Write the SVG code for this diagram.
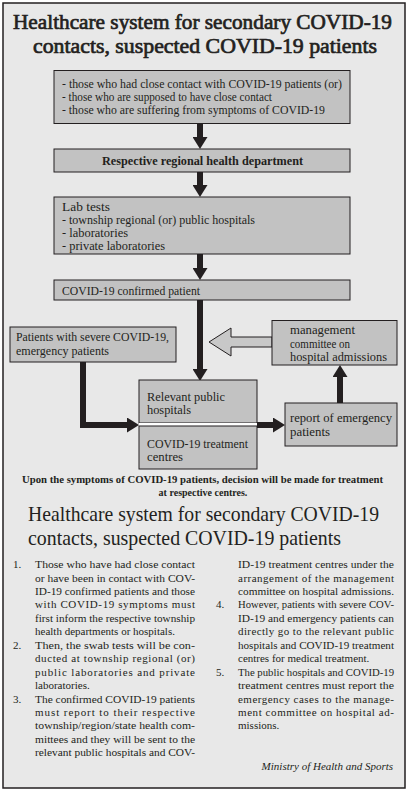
<svg xmlns="http://www.w3.org/2000/svg" width="408" height="792" viewBox="0 0 408 792">
<style>
.t{font-family:"Liberation Serif","Times New Roman",serif;fill:#231f20}
.bx{fill:#c2c2c2;stroke:#231f20;stroke-width:1}
.s{font-size:12px}
.b{font-size:12.5px}
.body{font-size:11px}
.sh{fill:none;stroke:#231f20;stroke-width:6}
</style>
<defs>
<marker id="ah" markerUnits="userSpaceOnUse" markerWidth="12" markerHeight="15" refX="0" refY="7.5" orient="auto" viewBox="0 0 12 15">
<path d="M0,0 L12,7.5 L0,15 z" fill="#231f20"/>
</marker>
</defs>
<rect x="0" y="0" width="408" height="792" fill="#ffffff"/>
<rect x="3" y="3" width="402" height="785" fill="#e8e8e8" stroke="#231f20" stroke-width="1.5"/>

<g id="title">
<text class="t" x="13" y="29" font-size="21.8" textLength="379" lengthAdjust="spacingAndGlyphs" stroke="#231f20" stroke-width="0.7">Healthcare system for secondary COVID-19</text>
<text class="t" x="33" y="53" font-size="21.8" textLength="344" lengthAdjust="spacingAndGlyphs" stroke="#231f20" stroke-width="0.7">contacts, suspected COVID-19 patients</text>
</g>

<g id="connectors">
<path class="sh" d="M200,124 V137" marker-end="url(#ah)"/>
<path class="sh" d="M200,172 V185" marker-end="url(#ah)"/>
<path class="sh" d="M200,254 V268" marker-end="url(#ah)"/>
<path class="sh" d="M200,300 V369" marker-end="url(#ah)"/>
<path class="sh" d="M83,362 V425 H127" marker-end="url(#ah)"/>
<path class="sh" d="M257,425 H273" marker-end="url(#ah)"/>
<path class="sh" d="M340,403 V377" marker-end="url(#ah)"/>
<polygon points="209,342 231,328 231,337 272,337 272,347 231,347 231,356" fill="#c8c8c8" stroke="#231f20" stroke-width="1"/>
</g>

<g id="n1">
<rect class="bx" x="54" y="70.5" width="296" height="53"/>
<text class="t s" x="62" y="88" textLength="280" lengthAdjust="spacingAndGlyphs">-  those who had close contact with COVID-19 patients (or)</text>
<text class="t s" x="62" y="101" textLength="210" lengthAdjust="spacingAndGlyphs">-  those who are supposed to have close contact</text>
<text class="t s" x="62" y="114" textLength="263" lengthAdjust="spacingAndGlyphs">-  those who are suffering from symptoms of COVID-19</text>
</g>

<g id="n2">
<rect class="bx" x="54" y="149" width="296" height="23"/>
<text class="t" x="102" y="165" font-size="12" font-weight="bold" textLength="201" lengthAdjust="spacingAndGlyphs">Respective regional health department</text>
</g>

<g id="n3">
<rect class="bx" x="54" y="197" width="296" height="57"/>
<text class="t b" x="62" y="211" textLength="48" lengthAdjust="spacingAndGlyphs">Lab tests</text>
<text class="t b" x="62" y="224" textLength="193" lengthAdjust="spacingAndGlyphs">-  township regional (or) public hospitals</text>
<text class="t b" x="62" y="237" textLength="66" lengthAdjust="spacingAndGlyphs">-  laboratories</text>
<text class="t b" x="62" y="250" textLength="103" lengthAdjust="spacingAndGlyphs">-  private laboratories</text>
</g>

<g id="n4">
<rect class="bx" x="54" y="280" width="296" height="20"/>
<text class="t b" x="62" y="294.5" textLength="138" lengthAdjust="spacingAndGlyphs">COVID-19 confirmed patient</text>
</g>

<g id="n5">
<rect class="bx" x="10" y="327" width="166" height="35"/>
<text class="t b" x="16" y="341" textLength="153" lengthAdjust="spacingAndGlyphs">Patients with severe COVID-19,</text>
<text class="t b" x="16" y="355" textLength="93" lengthAdjust="spacingAndGlyphs">emergency patients</text>
</g>

<g id="n6">
<rect class="bx" x="272" y="320.5" width="125" height="44.5"/>
<text class="t b" x="290" y="334" textLength="65" lengthAdjust="spacingAndGlyphs">management</text>
<text class="t b" x="290" y="347.5" textLength="60" lengthAdjust="spacingAndGlyphs">committee on</text>
<text class="t b" x="290" y="361" textLength="97" lengthAdjust="spacingAndGlyphs">hospital admissions</text>
</g>

<g id="n7">
<rect class="bx" x="139" y="380" width="118" height="43"/>
<text class="t b" x="147" y="401" textLength="78" lengthAdjust="spacingAndGlyphs">Relevant public</text>
<text class="t b" x="147" y="414" textLength="44" lengthAdjust="spacingAndGlyphs">hospitals</text>
</g>
<rect x="139" y="423" width="118" height="3" fill="#ffffff"/>
<g id="n8">
<rect class="bx" x="139" y="426" width="118" height="43"/>
<text class="t b" x="147" y="448" textLength="101" lengthAdjust="spacingAndGlyphs">COVID-19 treatment</text>
<text class="t b" x="147" y="461" textLength="36" lengthAdjust="spacingAndGlyphs">centres</text>
</g>

<g id="n9">
<rect class="bx" x="285" y="403" width="112" height="43"/>
<text class="t b" x="290" y="422" textLength="102" lengthAdjust="spacingAndGlyphs">report of emergency</text>
<text class="t b" x="290" y="436" textLength="40" lengthAdjust="spacingAndGlyphs">patients</text>
</g>

<g id="caption">
<text class="t" x="22" y="483" font-size="10" font-weight="bold" textLength="361" lengthAdjust="spacingAndGlyphs">Upon the symptoms of COVID-19 patients, decision will be made for treatment</text>
<text class="t" x="203" y="496" font-size="10" font-weight="bold" text-anchor="middle">at respective centres.</text>
</g>

<g id="title2">
<text class="t" x="28" y="521" font-size="21" textLength="351" lengthAdjust="spacingAndGlyphs">Healthcare system for secondary COVID-19</text>
<text class="t" x="28" y="545" font-size="21" textLength="313" lengthAdjust="spacingAndGlyphs">contacts, suspected COVID-19 patients</text>
</g>

<g id="bodyleft" class="t body">
<text x="13" y="568">1.</text>
<text x="35" y="568" textLength="160" lengthAdjust="spacingAndGlyphs">Those who have had close contact</text>
<text x="35" y="581.5" textLength="160" lengthAdjust="spacingAndGlyphs">or have been in contact with COV-</text>
<text x="35" y="595" textLength="160" lengthAdjust="spacingAndGlyphs">ID-19 confirmed patients and those</text>
<text x="35" y="608.4" textLength="160" lengthAdjust="spacing">with COVID-19 symptoms must</text>
<text x="35" y="621.8" textLength="160" lengthAdjust="spacingAndGlyphs">first inform the respective township</text>
<text x="35" y="635.3">health departments or hospitals.</text>
<text x="13" y="648.7">2.</text>
<text x="35" y="648.7" textLength="160" lengthAdjust="spacingAndGlyphs">Then, the swab tests will be con-</text>
<text x="35" y="662.1" textLength="160" lengthAdjust="spacing">ducted at township regional (or)</text>
<text x="35" y="675.6" textLength="160" lengthAdjust="spacing">public laboratories and private</text>
<text x="35" y="689">laboratories.</text>
<text x="13" y="702.5">3.</text>
<text x="35" y="702.5" textLength="160" lengthAdjust="spacingAndGlyphs">The confirmed COVID-19 patients</text>
<text x="35" y="715.9" textLength="160" lengthAdjust="spacing">must report to their respective</text>
<text x="35" y="729.4" textLength="160" lengthAdjust="spacingAndGlyphs">township/region/state health com-</text>
<text x="35" y="742.8" textLength="160" lengthAdjust="spacingAndGlyphs">mittees and they will be sent to the</text>
<text x="35" y="756.3" textLength="160" lengthAdjust="spacingAndGlyphs">relevant public hospitals and COV-</text>
</g>

<g id="bodyright" class="t body">
<text x="238" y="568" textLength="156" lengthAdjust="spacingAndGlyphs">ID-19 treatment centres under the</text>
<text x="238" y="581.5" textLength="156" lengthAdjust="spacing">arrangement of the management</text>
<text x="238" y="595" textLength="156" lengthAdjust="spacingAndGlyphs">committee on hospital admissions.</text>
<text x="216" y="608.4">4.</text>
<text x="238" y="608.4" textLength="156" lengthAdjust="spacingAndGlyphs">However, patients with severe COV-</text>
<text x="238" y="621.8" textLength="156" lengthAdjust="spacingAndGlyphs">ID-19 and emergency patients can</text>
<text x="238" y="635.3" textLength="156" lengthAdjust="spacing">directly go to the relevant public</text>
<text x="238" y="648.7" textLength="156" lengthAdjust="spacingAndGlyphs">hospitals and COVID-19 treatment</text>
<text x="238" y="662.1">centres for medical treatment.</text>
<text x="216" y="675.6">5.</text>
<text x="238" y="675.6" textLength="156" lengthAdjust="spacingAndGlyphs">The public hospitals and COVID-19</text>
<text x="238" y="689" textLength="156" lengthAdjust="spacingAndGlyphs">treatment centres must report the</text>
<text x="238" y="702.5" textLength="156" lengthAdjust="spacing">emergency cases to the manage-</text>
<text x="238" y="715.9" textLength="156" lengthAdjust="spacing">ment committee on hospital ad-</text>
<text x="238" y="729.4">missions.</text>
<text x="393" y="770" text-anchor="end" font-style="italic">Ministry of Health and Sports</text>
</g>
</svg>
